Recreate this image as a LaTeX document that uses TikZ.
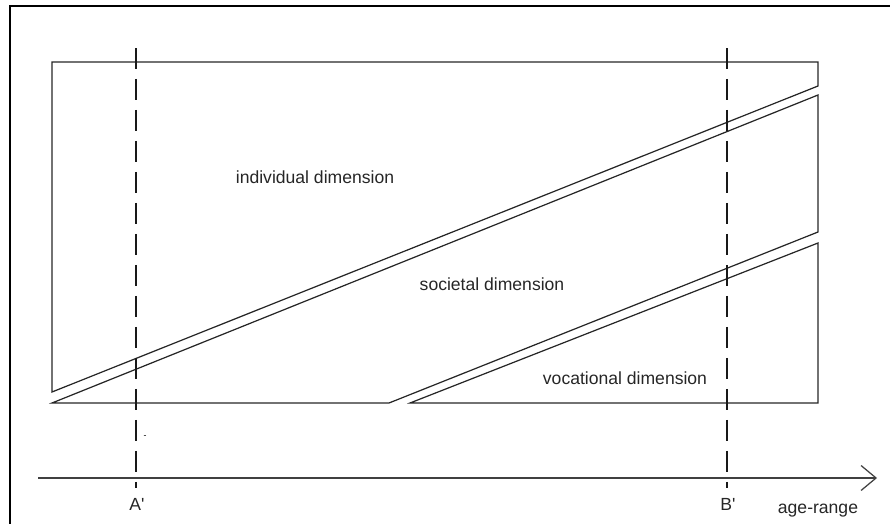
\documentclass[tikz,border=0pt]{standalone}
\usepackage{fontspec}
\setmainfont{Liberation Sans}
\usepackage{tikz}
\usetikzlibrary{arrows.meta, positioning, calc}

\tikzset{
  dimline/.style={line width=0.7pt, draw=black!85, line join=miter},
  agemark/.style={line width=0.7pt, draw=black!90, dash pattern=on 0.42cm off 0.2cm},
  dimlabel/.style={font=\fontsize{10}{12}\selectfont, text=black!85, inner sep=0pt},
}

\begin{document}
\begin{tikzpicture}[x=0.02cm, y=-0.02cm]
  \useasboundingbox (0,0) rectangle (890,524);

  % Cadre
  \draw[line width=1pt] (10,530) -- (10,6) -- (895,6);

  % Dimension individuelle
  \draw[dimline] (52,62) -- (818,62) -- (818,86) -- (52,392) -- cycle;
  % Dimension sociale
  \draw[dimline] (52,403) -- (818,95) -- (818,232) -- (389,403) -- cycle;
  % Dimension professionnelle
  \draw[dimline] (410,403) -- (818,243) -- (818,403) -- cycle;

  % Textes
  \node[dimlabel] (indiv) at (315,177) {individual dimension};
  \node[dimlabel] (soc) at (492,284) {societal dimension};
  \node[dimlabel] (voc) at (625,378) {vocational dimension};

  % Axe des ages
  \coordinate (axL) at (38,478);
  \coordinate (axR) at (877,478);
  \draw[line width=0.7pt, draw=black!75, -{Straight Barb[length=3mm, width=5mm, line width=0.7pt]}] (axL) -- (axR);
  \node[dimlabel] (age) at (818,511) {age-range};

  % Reperes A' et B'
  \coordinate (aTop) at (136,48);
  \coordinate (aBot) at (136,488);
  \coordinate (bTop) at (727,48);
  \coordinate (bBot) at (727,488);
  \draw[agemark] (aTop) -- (aBot);
  \draw[agemark] (bTop) -- (bBot);
  \node[dimlabel] (aLbl) at (137,504) {A\textquotesingle};
  \node[dimlabel] (bLbl) at (728,504) {B\textquotesingle};
  \node[font=\tiny, inner sep=0pt] (aDot) at (145,437) {-};
\end{tikzpicture}
\end{document}
